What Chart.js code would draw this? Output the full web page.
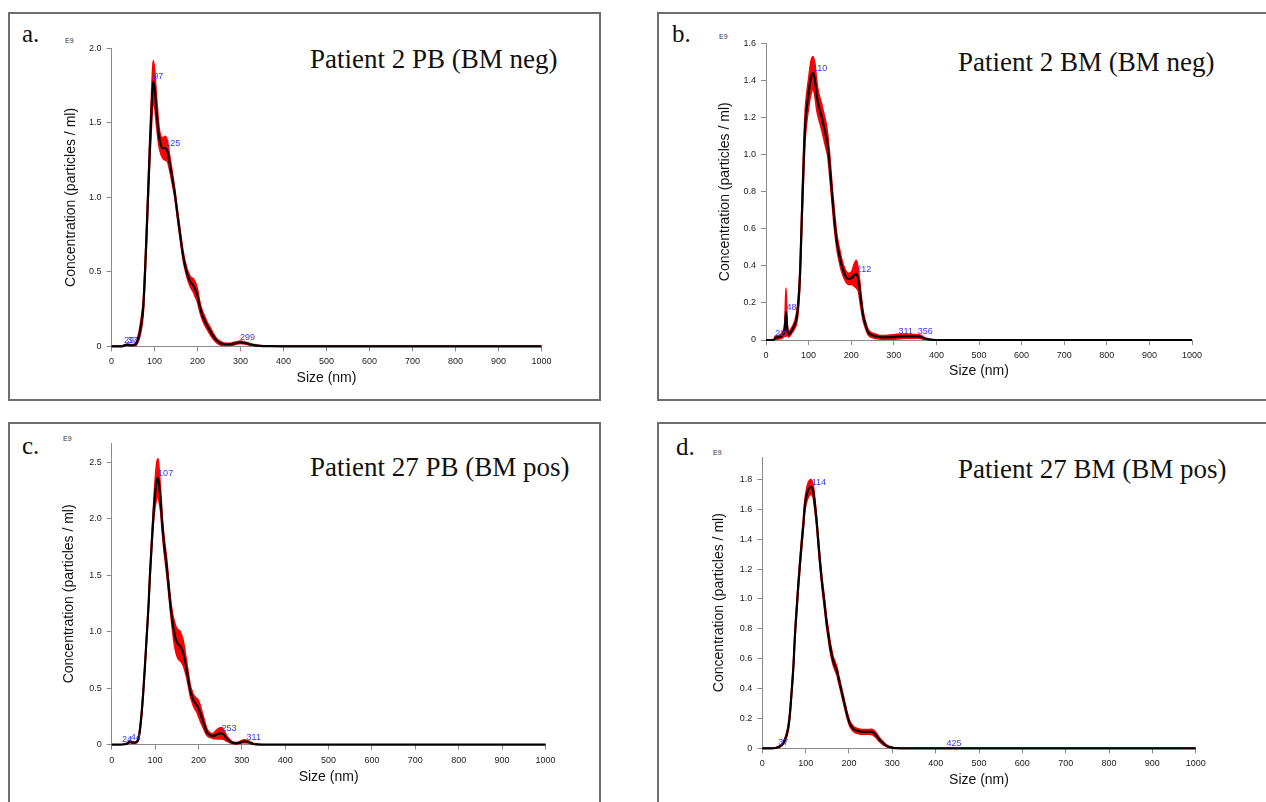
<!DOCTYPE html>
<html><head><meta charset="utf-8">
<script src="https://cdn.jsdelivr.net/npm/chart.js@4.4.1/dist/chart.umd.min.js"></script>
<style>
html,body{margin:0;padding:0;background:#fff;}
body{width:1266px;height:802px;position:relative;overflow:hidden;}
.box{position:absolute;border:2px solid #6e6e6e;box-sizing:border-box;}
canvas{position:absolute;}
.t{position:absolute;white-space:nowrap;line-height:1;}
.serif{font-family:"Liberation Serif","Times New Roman",serif;color:#111;}
.e9{font-family:"Liberation Sans",Arial,sans-serif;font-size:7px;color:#333;}
</style></head><body>
<div class="box" style="left:8px;top:12px;width:593px;height:389px"></div>
<div class="box" style="left:657px;top:12px;width:620px;height:389px"></div>
<div class="box" style="left:8px;top:422px;width:593px;height:400px"></div>
<div class="box" style="left:657px;top:422px;width:620px;height:400px"></div>

<div class="t serif" style="left:22px;top:20.8px;font-size:25px">a.</div>
<div class="t serif" style="left:672px;top:20.8px;font-size:25px">b.</div>
<div class="t serif" style="left:22px;top:433px;font-size:25px">c.</div>
<div class="t serif" style="left:676px;top:434px;font-size:25px">d.</div>

<div class="t serif" style="left:310px;top:45.7px;font-size:27px">Patient 2 PB (BM neg)</div>
<div class="t serif" style="left:958px;top:49.1px;font-size:27px">Patient 2 BM (BM neg)</div>
<div class="t serif" style="left:310px;top:454.1px;font-size:27px">Patient 27 PB (BM pos)</div>
<div class="t serif" style="left:958px;top:455.7px;font-size:27px">Patient 27 BM (BM pos)</div>

<div class="t e9" style="left:65px;top:36.6px">E9</div>
<div class="t e9" style="left:719px;top:33.3px">E9</div>
<div class="t e9" style="left:63px;top:434.6px">E9</div>
<div class="t e9" style="left:713px;top:449.3px">E9</div>

<canvas id="ca"></canvas>
<canvas id="cb"></canvas>
<canvas id="cc"></canvas>
<canvas id="cd"></canvas>
<script>
// ---------- shared axis ticks ----------
const xTicks = [0,100,200,300,400,500,600,700,800,900,1000];
const xTickLabels = ['0','100','200','300','400','500','600','700','800','900','1000'];

// ---------- panel a: Patient 2 PB (BM neg) ----------
const aSizes = [0,25,30,37,45,55,62,68,74,81,89,94,97,100,105,110,115,120,125,130,136,142,147,155,161,167,173,178,184,190,195,200,205,211,217,223,229,236,244,252,260,270,280,290,299,310,320,330,345,370,400,1000];
const aMean  = [0,0,0.006,0.01,0.006,0.01,0.05,0.13,0.27,0.71,1.32,1.65,1.78,1.74,1.57,1.42,1.35,1.33,1.33,1.31,1.22,1.12,1.03,0.85,0.72,0.60,0.52,0.47,0.43,0.41,0.38,0.34,0.27,0.21,0.17,0.135,0.105,0.07,0.04,0.022,0.014,0.012,0.015,0.022,0.027,0.022,0.014,0.008,0.003,0.001,0,0];
const aErr   = [0,0,0.004,0.006,0.005,0.008,0.02,0.04,0.05,0.06,0.08,0.12,0.14,0.13,0.1,0.07,0.06,0.07,0.08,0.07,0.05,0.04,0.03,0.03,0.03,0.03,0.03,0.03,0.035,0.045,0.05,0.045,0.035,0.03,0.03,0.025,0.025,0.02,0.015,0.012,0.01,0.008,0.008,0.008,0.008,0.007,0.006,0.005,0.003,0.001,0,0];
const aPeakSizes  = [29,37,97,125,299];
const aPeakValues = [0.006,0.01,1.78,1.33,0.027];
const aPeakLabels = ['29','37','97','125','299'];
const aYTicks  = [0,0.5,1,1.5,2];
const aYLabels = ['0','0.5','1.0','1.5','2.0'];

// ---------- panel b: Patient 2 BM (BM neg) ----------
const bSizes = [0,18,22,30,38,44,47,50,53,60,67,72,76,80,83,86,89,92,96,100,105,110,115,119,124,130,136,141,145,150,155,160,166,172,178,186,193,201,207,212,217,221,225,229,233,240,252,265,276,290,307,320,340,356,365,372,385,400,1000];
const bMean  = [0,0,0.012,0.015,0.025,0.06,0.15,0.06,0.03,0.05,0.08,0.12,0.2,0.36,0.58,0.80,1.0,1.16,1.26,1.33,1.41,1.44,1.40,1.32,1.26,1.21,1.15,1.10,1.05,0.93,0.79,0.66,0.535,0.46,0.40,0.35,0.33,0.334,0.35,0.355,0.32,0.25,0.176,0.12,0.086,0.041,0.023,0.016,0.014,0.015,0.018,0.02,0.02,0.02,0.015,0.008,0.002,0,0];
const bErr   = [0,0,0.01,0.01,0.015,0.04,0.13,0.03,0.015,0.015,0.02,0.03,0.04,0.05,0.06,0.07,0.08,0.08,0.08,0.08,0.09,0.09,0.09,0.08,0.07,0.07,0.07,0.07,0.06,0.06,0.05,0.05,0.04,0.04,0.035,0.03,0.03,0.035,0.06,0.075,0.06,0.05,0.035,0.025,0.02,0.015,0.012,0.01,0.01,0.012,0.013,0.012,0.01,0.01,0.008,0.005,0.002,0,0];
const bPeakSizes  = [22,48,110,212,311,356];
const bPeakValues = [0.012,0.15,1.44,0.355,0.019,0.02];
const bPeakLabels = ['22','48','110','212','311','356'];
const bYTicks  = [0,0.2,0.4,0.6,0.8,1.0,1.2,1.4,1.6];
const bYLabels = ['0','0.2','0.4','0.6','0.8','1.0','1.2','1.4','1.6'];

// ---------- panel c: Patient 27 PB (BM pos) ----------
const cSizes = [0,20,30,36,42,47,50,55,58,62,65,69,73,77,81,85,88,92,96,100,104,107,110,113,116,119,123,127,131,135,139,142,146,150,154,158,162,165,169,173,177,181,185,188,192,196,200,204,208,212,216,219,223,227,231,235,240,245,250,254,259,265,271,277,283,288,295,300,305,311,315,321,327,335,342,360,1000];
const cMean  = [0,0,0.004,0.01,0.027,0.02,0.018,0.02,0.025,0.06,0.13,0.28,0.48,0.72,0.98,1.24,1.49,1.76,2.02,2.22,2.34,2.36,2.27,2.15,1.98,1.84,1.70,1.57,1.41,1.25,1.12,1.04,0.96,0.91,0.885,0.87,0.84,0.81,0.74,0.66,0.57,0.48,0.43,0.395,0.37,0.35,0.32,0.28,0.235,0.19,0.145,0.115,0.095,0.085,0.078,0.077,0.088,0.095,0.10,0.10,0.085,0.056,0.035,0.02,0.014,0.012,0.018,0.026,0.03,0.028,0.024,0.015,0.006,0.003,0.001,0,0];
const cErr   = [0,0,0.003,0.006,0.01,0.008,0.006,0.006,0.008,0.015,0.02,0.025,0.03,0.03,0.03,0.035,0.04,0.05,0.07,0.12,0.16,0.17,0.14,0.1,0.08,0.07,0.07,0.07,0.06,0.06,0.07,0.09,0.11,0.12,0.13,0.13,0.12,0.11,0.09,0.07,0.06,0.05,0.05,0.05,0.055,0.06,0.07,0.07,0.06,0.05,0.04,0.03,0.025,0.02,0.02,0.025,0.035,0.045,0.05,0.05,0.04,0.025,0.015,0.01,0.008,0.008,0.01,0.012,0.013,0.012,0.01,0.008,0.005,0.003,0.001,0,0];
const cPeakSizes  = [24,44,107,253,311];
const cPeakValues = [0.006,0.025,2.36,0.10,0.028];
const cPeakLabels = ['24','44','107','253','311'];
const cYTicks  = [0,0.5,1,1.5,2,2.5];
const cYLabels = ['0','0.5','1.0','1.5','2.0','2.5'];

// ---------- panel d: Patient 27 BM (BM pos) ----------
const dSizes = [0,20,33,40,48,54,60,64,68,72,75,79,83,87,91,95,98,102,106,112,118,121,125,129,133,137,141,145,148,152,156,160,164,168,172,175,179,183,187,191,195,199,202,206,210,214,218,224,229,241,252,256,260,264,268,273,279,285,291,297,302,310,320,1000];
const dMean  = [0,0,0.004,0.012,0.033,0.07,0.14,0.24,0.39,0.56,0.74,0.92,1.09,1.24,1.38,1.51,1.62,1.69,1.73,1.75,1.71,1.64,1.53,1.39,1.25,1.13,1.03,0.93,0.85,0.77,0.69,0.63,0.58,0.55,0.52,0.48,0.43,0.38,0.33,0.28,0.23,0.19,0.165,0.145,0.13,0.122,0.117,0.113,0.11,0.11,0.11,0.105,0.095,0.082,0.066,0.05,0.033,0.02,0.011,0.006,0.003,0.001,0,0];
const dErr   = [0,0,0.002,0.004,0.008,0.012,0.018,0.022,0.025,0.028,0.03,0.032,0.034,0.035,0.036,0.038,0.04,0.045,0.05,0.05,0.045,0.04,0.035,0.035,0.035,0.035,0.035,0.035,0.035,0.035,0.035,0.033,0.03,0.03,0.028,0.027,0.025,0.025,0.024,0.022,0.02,0.02,0.018,0.018,0.017,0.017,0.017,0.017,0.016,0.016,0.017,0.018,0.018,0.017,0.015,0.013,0.01,0.007,0.005,0.003,0.002,0.001,0,0];
const dPeakSizes  = [37,114,425];
const dPeakValues = [0.006,1.75,0];
const dPeakLabels = ['37','114','425'];
const dYTicks  = [0,0.2,0.4,0.6,0.8,1.0,1.2,1.4,1.6,1.8];
const dYLabels = ['0','0.2','0.4','0.6','0.8','1.0','1.2','1.4','1.6','1.8'];

// ---------- layout (positions only) ----------
const layouts = {
  ca:{left:9,  top:13,  w:591, h:387, pl:53.6, pt:35.5, pr:58.5, pb:13.1, yw:48.9, xh:40.6, ymax:2.0},
  cb:{left:658,top:13,  w:608, h:387, pl:58.6, pt:30.5, pr:74.0, pb:20.9, yw:49.4, xh:39.1, ymax:1.6},
  cc:{left:9,  top:423, w:591, h:379, pl:51.6, pt:20.0, pr:54.5, pb:16.9, yw:51.1, xh:40.4, ymax:2.67},
  cd:{left:658,top:423, w:608, h:379, pl:52.6, pt:34.0, pr:70.3, pb:13.6, yw:51.7, xh:40.1, ymax:1.95}
};

const SANS = '"Liberation Sans", Arial, Helvetica, sans-serif';

const peakLabelPlugin = {
  id: 'peakLabels',
  afterDatasetsDraw(chart, args, opts) {
    const ctx = chart.ctx, xs = chart.scales.x, ys = chart.scales.y;
    ctx.save();
    ctx.font = '9px ' + SANS;
    ctx.fillStyle = '#3535ff';
    ctx.textAlign = 'left';
    ctx.textBaseline = 'alphabetic';
    opts.sizes.forEach((s, i) => {
      ctx.fillText(opts.labels[i], xs.getPixelForValue(s), ys.getPixelForValue(opts.values[i]) - 2);
    });
    ctx.restore();
  }
};

function makePanel(id, sizes, mean, err, peakSizes, peakValues, peakLabels, yTicks, yLabels) {
  const g = layouts[id];
  const cv = document.getElementById(id);
  cv.width = g.w; cv.height = g.h;
  cv.style.left = g.left + 'px'; cv.style.top = g.top + 'px';
  cv.style.width = g.w + 'px'; cv.style.height = g.h + 'px';
  const meanPts  = sizes.map((s, i) => ({x: s, y: mean[i]}));
  const upperPts = sizes.map((s, i) => ({x: s, y: mean[i] + err[i]}));
  const lowerPts = sizes.map((s, i) => ({x: s, y: Math.max(0, mean[i] - err[i])}));
  const gridOpts = {display: true, drawOnChartArea: false, drawTicks: true, tickLength: 5, color: '#8a8a8a', lineWidth: 1};
  const borderOpts = {display: true, color: '#8a8a8a', width: 1};
  new Chart(cv, {
    type: 'line',
    data: {datasets: [
      {data: meanPts, borderColor: '#000000', borderWidth: 2.2, pointRadius: 0, fill: false, cubicInterpolationMode: 'monotone', order: 0, clip: 3},
      {data: upperPts, borderColor: '#ff0000', borderWidth: 1.5, backgroundColor: '#ff0000', pointRadius: 0, fill: '+1', cubicInterpolationMode: 'monotone', order: 1},
      {data: lowerPts, borderColor: '#ff0000', borderWidth: 1.5, pointRadius: 0, fill: false, cubicInterpolationMode: 'monotone', order: 2}
    ]},
    options: {
      responsive: false, maintainAspectRatio: false, animation: false, events: [],
      layout: {padding: {left: g.pl, top: g.pt, right: g.pr, bottom: g.pb}},
      plugins: {
        legend: {display: false}, tooltip: {enabled: false},
        peakLabels: {sizes: peakSizes, values: peakValues, labels: peakLabels}
      },
      scales: {
        x: {
          type: 'linear', min: 0, max: 1000,
          afterBuildTicks: s => { s.ticks = xTicks.map(v => ({value: v})); },
          afterFit: s => { s.height = g.xh; },
          ticks: {autoSkip: false, maxRotation: 0, padding: 5, color: '#1a1a1a', font: {family: SANS, size: 9},
                  callback: (v, i) => xTickLabels[i]},
          grid: gridOpts, border: borderOpts,
          title: {display: true, text: 'Size (nm)', color: '#111', font: {family: SANS, size: 14}, padding: 0}
        },
        y: {
          type: 'linear', min: 0, max: g.ymax,
          afterBuildTicks: s => { s.ticks = yTicks.map(v => ({value: v})); },
          afterFit: s => { s.width = g.yw; },
          ticks: {autoSkip: false, padding: 5, color: '#1a1a1a', font: {family: SANS, size: 9},
                  callback: (v, i) => yLabels[i]},
          grid: gridOpts, border: borderOpts,
          title: {display: true, text: 'Concentration (particles / ml)', color: '#111', font: {family: SANS, size: 14}, padding: 0}
        }
      }
    },
    plugins: [peakLabelPlugin]
  });
}

makePanel('ca', aSizes, aMean, aErr, aPeakSizes, aPeakValues, aPeakLabels, aYTicks, aYLabels);
makePanel('cb', bSizes, bMean, bErr, bPeakSizes, bPeakValues, bPeakLabels, bYTicks, bYLabels);
makePanel('cc', cSizes, cMean, cErr, cPeakSizes, cPeakValues, cPeakLabels, cYTicks, cYLabels);
makePanel('cd', dSizes, dMean, dErr, dPeakSizes, dPeakValues, dPeakLabels, dYTicks, dYLabels);
</script>
</body></html>
